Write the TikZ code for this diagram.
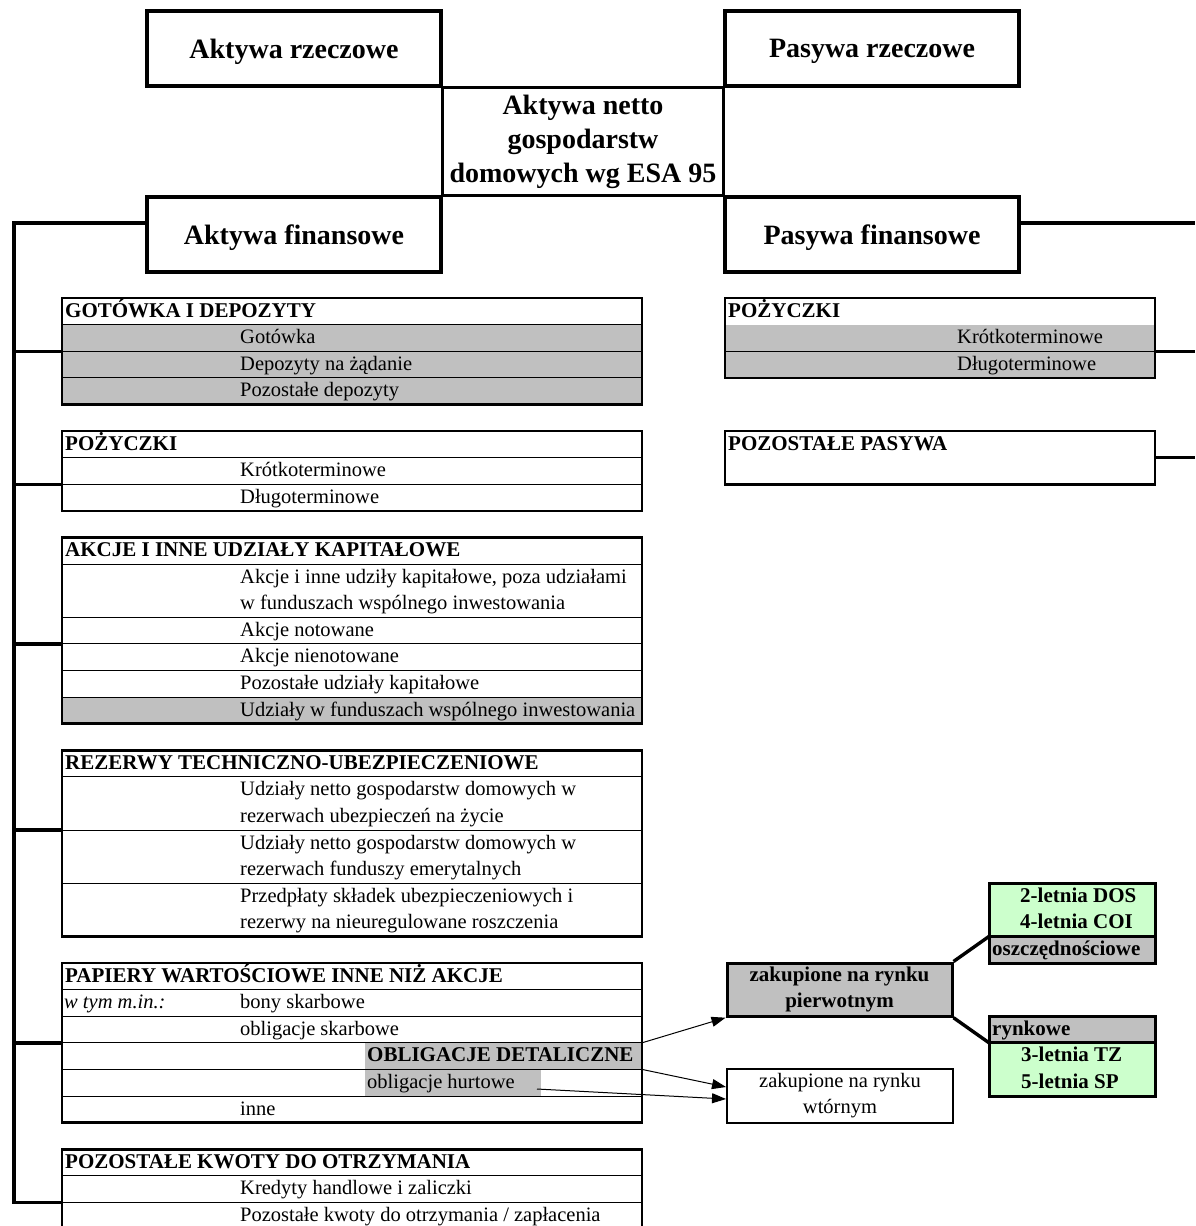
\documentclass[tikz,border=0pt]{standalone}
\usepackage{fontspec}
\setmainfont{Liberation Serif}
\usetikzlibrary{arrows.meta}
\definecolor{cellgray}{HTML}{C0C0C0}
\definecolor{cellgreen}{HTML}{CCFFCC}

\begin{document}
\begin{tikzpicture}[x=1pt,y=-1pt,
  box/.style={draw,line width=3.4pt,minimum width=294pt,minimum height=75pt,
    inner sep=0pt,text depth=0pt,font=\bfseries\fontsize{28}{34}\selectfont},
  link/.style={line width=3.4pt},
  frame/.style={line width=2.6pt},
  sep/.style={line width=0.9pt},
  hd/.style={anchor=base west,inner sep=0pt,font=\bfseries\fontsize{21}{26}\selectfont},
  it/.style={anchor=base west,inner sep=0pt,font=\fontsize{20.5}{26}\selectfont},
  arr/.style={line width=1pt,-{Triangle[length=14pt,width=10pt]}}]
  \useasboundingbox (0,0) rectangle (1195,1226);

  \node[box] (ar) at (294,48.5) {Aktywa rzeczowe};
  \node[box] (pr) at (872,48.5) {Pasywa rzeczowe};
  \node[box] (af) at (294,234.5) {Aktywa finansowe};
  \node[box] (pf) at (872,234.5) {Pasywa finansowe};
  \draw[link] (ar.south east) -- (pr.south west) -- (pf.north west)
    -- (af.north east) -- cycle;
  \node[align=center,font=\bfseries\fontsize{28}{34}\selectfont] (netto)
    at (583,141.5) {Aktywa netto\\gospodarstw\\domowych wg ESA 95};

  \coordinate (lsp) at (14,223);
  \coordinate (rsp) at (1195,223);
  \coordinate (t1) at (62,351.2);
  \coordinate (t2) at (62,484.2);
  \coordinate (t3) at (62,643.8);
  \coordinate (t4) at (62,830);
  \coordinate (t5) at (62,1042.8);
  \coordinate (t6) at (62,1202.4);
  \coordinate (q1) at (1155,351.2);
  \coordinate (q2) at (1155,457.6);
  \draw[link] (af.west |- lsp) -- (lsp) -- (lsp |- t6) -- (t6);
  \foreach \t in {t1,t2,t3,t4,t5}
    \draw[link] (lsp |- \t) -- (\t);
  \draw[link] (pf.east |- rsp) -- (rsp);
  \draw[link] (q1) -- (q1 -| rsp);
  \draw[link] (q2) -- (q2 -| rsp);

  \fill[cellgray] (62,324.6) rectangle (642,404.4);
  \draw[sep] (62,324.6) -- (642,324.6) (62,351.2) -- (642,351.2)
    (62,377.8) -- (642,377.8);
  \draw[frame] (62,298) rectangle (642,404.4);
  \node[hd] (h1) at (65,317) {GOTÓWKA I DEPOZYTY};
  \node[it] (c1) at (240,343.6) {Gotówka};
  \node[it] (c2) at (240,370.2) {Depozyty na żądanie};
  \node[it] (c3) at (240,396.8) {Pozostałe depozyty};

  \draw[sep] (62,457.6) -- (642,457.6) (62,484.2) -- (642,484.2);
  \draw[frame] (62,431) rectangle (642,510.8);
  \node[hd] (h2) at (65,450) {POŻYCZKI};
  \node[it] (p1) at (240,476.6) {Krótkoterminowe};
  \node[it] (p2) at (240,503.2) {Długoterminowe};

  \fill[cellgray] (62,697) rectangle (642,723.6);
  \foreach \y in {564,617.2,643.8,670.4,697}
    \draw[sep] (62,\y) -- (642,\y);
  \draw[frame] (62,537.4) rectangle (642,723.6);
  \node[hd] (h3) at (65,556.4) {AKCJE I INNE UDZIAŁY KAPITAŁOWE};
  \node[it] (a1) at (240,583) {Akcje i inne udziły kapitałowe, poza udziałami};
  \node[it] (a1b) at (240,609.6) {w funduszach wspólnego inwestowania};
  \node[it] (a2) at (240,636.2) {Akcje notowane};
  \node[it] (a3) at (240,662.8) {Akcje nienotowane};
  \node[it] (a4) at (240,689.4) {Pozostałe udziały kapitałowe};
  \node[it] (a5) at (240,716) {Udziały w funduszach wspólnego inwestowania};

  \foreach \y in {776.8,830,883.2}
    \draw[sep] (62,\y) -- (642,\y);
  \draw[frame] (62,750.2) rectangle (642,936.4);
  \node[hd] (h4) at (65,769.2) {REZERWY TECHNICZNO-UBEZPIECZENIOWE};
  \node[it] (u1) at (240,795.8) {Udziały netto gospodarstw domowych w};
  \node[it] (u1b) at (240,822.4) {rezerwach ubezpieczeń na życie};
  \node[it] (u2) at (240,849) {Udziały netto gospodarstw domowych w};
  \node[it] (u2b) at (240,875.6) {rezerwach funduszy emerytalnych};
  \node[it] (u3) at (240,902.2) {Przedpłaty składek ubezpieczeniowych i};
  \node[it] (u3b) at (240,928.8) {rezerwy na nieuregulowane roszczenia};

  \fill[cellgray] (365,1042.8) rectangle (642,1069.4);
  \fill[cellgray] (365,1069.4) rectangle (541,1096);
  \foreach \y in {989.6,1016.2,1042.8,1069.4,1096}
    \draw[sep] (62,\y) -- (642,\y);
  \draw[frame] (62,963) rectangle (642,1122.6);
  \node[hd] (h5) at (65,982) {PAPIERY WARTOŚCIOWE INNE NIŻ AKCJE};
  \node[it,font=\itshape\fontsize{20.5}{26}\selectfont] (w0) at (64,1008.6) {w tym m.in.:};
  \node[it] (w1) at (240,1008.6) {bony skarbowe};
  \node[it] (w2) at (240,1035.2) {obligacje skarbowe};
  \node[hd] (w3) at (367,1061.8) {OBLIGACJE DETALICZNE};
  \node[it] (w4) at (367,1088.4) {obligacje hurtowe};
  \node[it] (w5) at (240,1115) {inne};

  \draw[sep] (62,1175.8) -- (642,1175.8) (62,1202.4) -- (642,1202.4);
  \draw[frame] (62,1149.2) rectangle (642,1229);
  \node[hd] (h6) at (65,1168.2) {POZOSTAŁE KWOTY DO OTRZYMANIA};
  \node[it] (k1) at (240,1194.8) {Kredyty handlowe i zaliczki};
  \node[it] (k2) at (240,1221.4) {Pozostałe kwoty do otrzymania / zapłacenia};

  \fill[cellgray] (725,324.6) rectangle (1155,377.8);
  \draw[sep] (725,351.2) -- (1155,351.2);
  \draw[frame] (725,298) rectangle (1155,377.8);
  \node[hd] (hr1) at (728,317) {POŻYCZKI};
  \node[it] (s1) at (957,343.6) {Krótkoterminowe};
  \node[it] (s2) at (957,370.2) {Długoterminowe};

  \draw[frame] (725,431) rectangle (1155,484.2);
  \node[hd] (hr2) at (728,450) {POZOSTAŁE PASYWA};

  \fill[cellgreen] (989,883.2) rectangle (1155,936.4);
  \fill[cellgray] (989,936.4) rectangle (1155,963);
  \draw[frame,line width=3pt] (989,883.2) rectangle (1155,963)
    (989,936.4) -- (1155,936.4);
  \node[hd] (g1) at (1020,902.2) {2-letnia DOS};
  \node[hd] (g2) at (1020,928.8) {4-letnia COI};
  \node[hd] (g3) at (992,955.4) {oszczędnościowe};

  \fill[cellgray] (989,1016.2) rectangle (1155,1042.8);
  \fill[cellgreen] (989,1042.8) rectangle (1155,1096);
  \draw[frame,line width=3pt] (989,1016.2) rectangle (1155,1096)
    (989,1042.8) -- (1155,1042.8);
  \node[hd] (g4) at (992,1035.2) {rynkowe};
  \node[hd] (g5) at (1021,1061.8) {3-letnia TZ};
  \node[hd] (g6) at (1021,1088.4) {5-letnia SP};

  \coordinate (os) at (989,936.4);
  \coordinate (ry) at (989,1042.8);
  \node[draw,fill=cellgray,line width=3pt,minimum width=225pt,minimum height=53.2pt,
    align=center,inner sep=0pt,font=\bfseries\fontsize{21}{26}\selectfont]
    (pierw) at (839.5,989.6) {zakupione na rynku\\pierwotnym};
  \node[draw,line width=2pt,minimum width=226pt,minimum height=53.2pt,
    align=center,inner sep=0pt,font=\fontsize{20.5}{26}\selectfont]
    (wtor) at (840,1096) {zakupione na rynku\\wtórnym};
  \draw[link] (pierw.north east) -- (os);
  \draw[link] (pierw.south east) -- (ry);

  \coordinate (d1) at (642,1042.8);
  \coordinate (d2) at (642,1069.4);
  \coordinate (d3) at (537,1089);
  \draw[arr] (d1) -- (pierw.south west);
  \draw[arr] (d2) -- ([yshift=9pt]wtor.west);
  \draw[arr] (d3) -- ([yshift=-3pt]wtor.west);
\end{tikzpicture}
\end{document}
